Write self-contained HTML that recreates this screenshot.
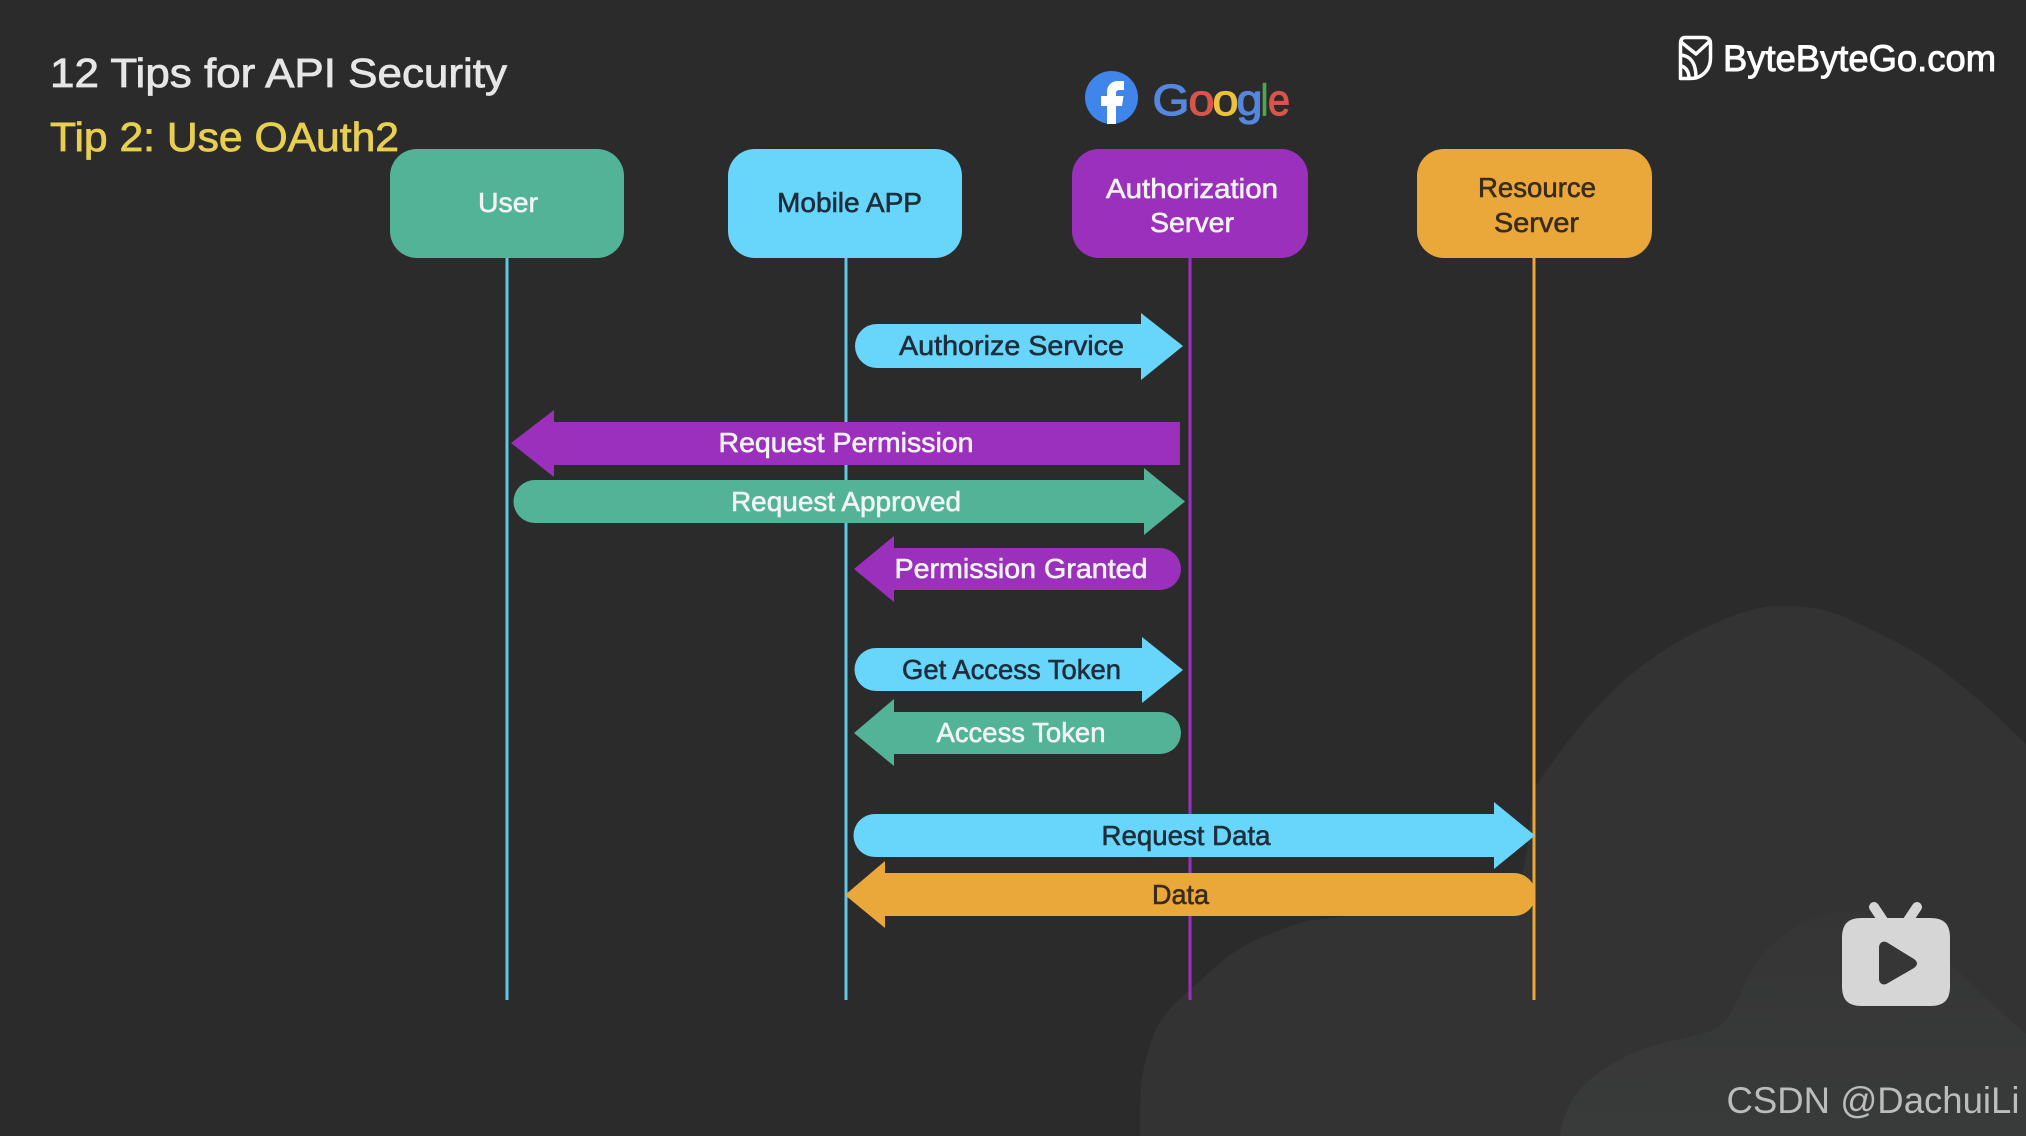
<!DOCTYPE html>
<html lang="en">
<head>
<meta charset="utf-8">
<title>12 Tips for API Security</title>
<style>
html,body{margin:0;padding:0;background:#2b2b2b;width:2026px;height:1136px;overflow:hidden}
svg{display:block}
text{font-family:"Liberation Sans",sans-serif}
.l{font-size:28px;stroke-width:.6px}
.w{fill:#f2f4f4;stroke:#f2f4f4}
.d{fill:#1f2d3a;stroke:#1f2d3a}
.o{fill:#3a2c1a;stroke:#3a2c1a}
</style>
</head>
<body>
<svg width="2026" height="1136" viewBox="0 0 2026 1136" xmlns="http://www.w3.org/2000/svg">
<defs>
<linearGradient id="bump" x1="0" y1="916" x2="0" y2="1136" gradientUnits="userSpaceOnUse">
<stop offset="0" stop-color="#353535"/>
<stop offset="1" stop-color="#393b3a"/>
</linearGradient>
</defs>
<rect width="2026" height="1136" fill="#2b2b2b"/>
<!-- background blobs -->
<path d="M1140,1136 C1140,1112 1140,1095 1142,1077 C1146,1058 1150,1042 1157,1027 C1165,1012 1176,1002 1190,990 C1205,977 1218,963 1233,953 C1248,943 1264,936 1280,930 C1292,925 1302,922 1313,920 C1380,912 1470,905 1520,880 C1530,850 1530,810 1534,788 C1560,750 1585,718 1615,689 C1635,670 1655,655 1679,641 C1715,622 1750,606 1779,606 C1800,606 1820,607 1839,615 C1865,626 1895,640 1919,655 C1945,670 1960,685 1979,700 C1995,714 2012,730 2026,744 L2026,1136 Z" fill="#333333"/>
<path d="M1560,1136 C1563,1112 1575,1092 1592,1078 C1610,1063 1632,1052 1655,1045 C1680,1038 1705,1036 1719,1027 C1727,1020 1733,1010 1739,997 C1746,980 1755,963 1767,949 C1782,935 1800,922 1819,916 C1850,905 1895,915 1925,938 C1935,946 1943,955 1951,964 C1975,988 2000,1012 2026,1034 L2026,1136 Z" fill="url(#bump)"/>

<!-- lifelines -->
<g stroke-width="3" fill="none">
<line x1="507" y1="257" x2="507" y2="1000" stroke="#62c6e8"/>
<line x1="846" y1="257" x2="846" y2="1000" stroke="#62c6e8"/>
<line x1="1190" y1="257" x2="1190" y2="1000" stroke="#9b30bd"/>
<line x1="1534" y1="257" x2="1534" y2="1000" stroke="#eba83a"/>
</g>

<!-- header boxes -->
<rect x="390" y="149" width="234" height="109" rx="27" fill="#52b396"/>
<rect x="728" y="149" width="234" height="109" rx="27" fill="#68d6fb"/>
<rect x="1072" y="149" width="236" height="109" rx="27" fill="#9b30bd"/>
<rect x="1417" y="149" width="235" height="109" rx="27" fill="#eba83a"/>

<!-- titles -->
<text x="50" y="87" font-size="41" textLength="457" lengthAdjust="spacingAndGlyphs" fill="#e6e6e6" stroke="#e6e6e6" stroke-width=".8">12 Tips for API Security</text>
<text x="50" y="151" font-size="41" textLength="349" lengthAdjust="spacingAndGlyphs" fill="#e8cf50" stroke="#e8cf50" stroke-width=".8">Tip 2: Use OAuth2</text>

<!-- box labels -->
<text class="l w" x="478" y="212" textLength="60" lengthAdjust="spacingAndGlyphs">User</text>
<text class="l d" x="777" y="212" textLength="145" lengthAdjust="spacingAndGlyphs">Mobile APP</text>
<text class="l w" x="1106" y="198" textLength="172" lengthAdjust="spacingAndGlyphs">Authorization</text>
<text class="l w" x="1150" y="232" textLength="84" lengthAdjust="spacingAndGlyphs">Server</text>
<text class="l o" x="1478" y="197" textLength="118" lengthAdjust="spacingAndGlyphs">Resource</text>
<text class="l o" x="1494" y="232" textLength="85" lengthAdjust="spacingAndGlyphs">Server</text>

<!-- arrows -->
<path d="M877,324 H1141 V313 L1183,346 L1141,380 V368 H877 A22,22 0 0 1 877,324 Z" fill="#68d6fb"/>
<path d="M1180,422 H554 V410 L511,443 L554,477 V465 H1180 Z" fill="#9b30bd"/>
<path d="M535,480 H1144 V468 L1185,501.500 L1144,535 V523 H535 A21.500,21.500 0 0 1 535,480 Z" fill="#52b396"/>
<path d="M1160,548 H894 V536 L854,569 L894,602 V590 H1160 A21,21 0 0 0 1160,548 Z" fill="#9b30bd"/>
<path d="M876,648 H1142 V637 L1183,670 L1142,703 V691 H876 A21.500,21.500 0 0 1 876,648 Z" fill="#68d6fb"/>
<path d="M1160,712 H894 V699 L854,733 L894,766 V754 H1160 A21,21 0 0 0 1160,712 Z" fill="#52b396"/>
<path d="M875,814 H1494 V802 L1535,835.500 L1494,869 V857 H875 A21.500,21.500 0 0 1 875,814 Z" fill="#68d6fb"/>
<path d="M1514,873 H885 V861 L845,895 L885,928 V916 H1514 A21.500,21.500 0 0 0 1514,873 Z" fill="#eba83a"/>

<!-- arrow labels -->
<text class="l d" x="899" y="355" textLength="225" lengthAdjust="spacingAndGlyphs">Authorize Service</text>
<text class="l w" x="718.500" y="452" textLength="255" lengthAdjust="spacingAndGlyphs">Request Permission</text>
<text class="l w" x="731" y="511" textLength="230" lengthAdjust="spacingAndGlyphs">Request Approved</text>
<text class="l w" x="894.500" y="578" textLength="253" lengthAdjust="spacingAndGlyphs">Permission Granted</text>
<text class="l d" x="902" y="679" textLength="219" lengthAdjust="spacingAndGlyphs">Get Access Token</text>
<text class="l w" x="936.500" y="742" textLength="169" lengthAdjust="spacingAndGlyphs">Access Token</text>
<text class="l d" x="1101.500" y="845" textLength="169" lengthAdjust="spacingAndGlyphs">Request Data</text>
<text class="l o" x="1152" y="904" textLength="57" lengthAdjust="spacingAndGlyphs">Data</text>

<!-- Facebook -->
<circle cx="1111.500" cy="97.500" r="26.500" fill="#3f85ea"/>
<path d="M1107,124 V106 H1101 V96 H1107 V92 C1107,85 1112,81 1118,81 H1124 V90 H1120 C1117,90 1116,91 1116,94 V96 H1123.500 L1122,106 H1116 V124 Z" fill="#ffffff"/>

<!-- Google -->
<g font-size="44" stroke-width="1.2">
<text x="1152.500" y="115" textLength="37" lengthAdjust="spacingAndGlyphs" fill="#5487e0" stroke="#5487e0">G</text>
<text x="1188.500" y="115" textLength="26" lengthAdjust="spacingAndGlyphs" fill="#d9544a" stroke="#d9544a">o</text>
<text x="1212.500" y="115" textLength="26" lengthAdjust="spacingAndGlyphs" fill="#ecc23c" stroke="#ecc23c">o</text>
<text x="1236.500" y="115" textLength="26" lengthAdjust="spacingAndGlyphs" fill="#5487e0" stroke="#5487e0">g</text>
<text x="1261" y="115" textLength="7" lengthAdjust="spacingAndGlyphs" fill="#4ea64f" stroke="#4ea64f">l</text>
<text x="1268" y="115" textLength="22" lengthAdjust="spacingAndGlyphs" fill="#d9544a" stroke="#d9544a">e</text>
</g>

<!-- ByteByteGo -->
<g fill="none" stroke="#ffffff" stroke-width="3.500" stroke-linejoin="round" stroke-linecap="round">
<path d="M1685,37.500 H1704 Q1710.500,37.500 1710.500,44 V58 C1710.500,70 1702,78.500 1690,78.500 H1680.500 V44 Q1680.500,37.500 1685,37.500 Z"/>
<path d="M1681,42 L1696,54 L1710,41"/>
<path d="M1681,55 C1690,56 1696,62 1696,78"/>
<path d="M1681,66 C1686,67 1689,72 1689,78"/>
</g>
<text x="1723" y="71" font-size="37" textLength="273" lengthAdjust="spacingAndGlyphs" fill="#ffffff" stroke="#ffffff" stroke-width=".9">ByteByteGo.com</text>

<!-- play badge -->
<g>
<path d="M1874,907 L1884,922 M1917,907 L1907,922" stroke="#d6d6d6" stroke-width="10" stroke-linecap="round" fill="none"/>
<path d="M1862,918 H1930 C1944,918 1950,924 1950,938 V986 C1950,1000 1944,1006 1930,1006 H1862 C1848,1006 1842,1000 1842,986 V938 C1842,924 1848,918 1862,918 Z" fill="#d6d6d6"/>
<path d="M1879,948 C1879,942 1884,940 1888,943 L1914,959 C1918,962 1918,965 1914,968 L1888,983 C1884,986 1879,984 1879,979 Z" fill="#363636"/>
</g>

<!-- watermark -->
<text x="1726.500" y="1113" font-size="37" textLength="293" lengthAdjust="spacingAndGlyphs" fill="#bcbcbc">CSDN @DachuiLi</text>
</svg>
</body>
</html>
